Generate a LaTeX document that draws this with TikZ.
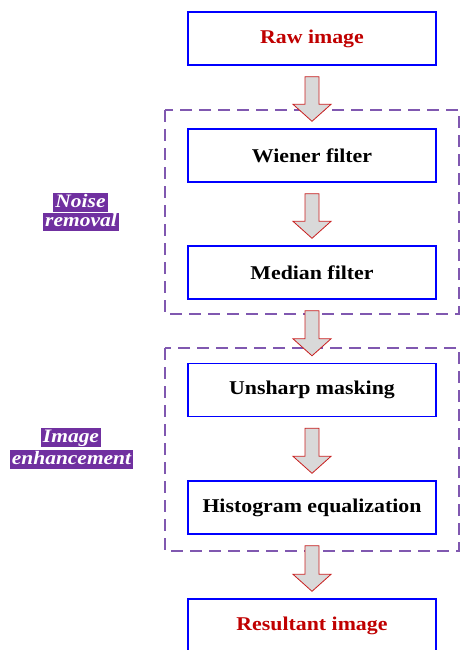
\documentclass[tikz,border=0pt]{standalone}
\usepackage{fontspec}
\setmainfont{Liberation Serif}
\newfontfamily\boxfont[FakeStretch=1.12]{Liberation Serif}
\newfontfamily\tagfont[FakeStretch=1.13]{Liberation Serif}
\usetikzlibrary{calc}
\definecolor{boxblue}{RGB}{0,0,255}
\definecolor{darkred}{RGB}{192,0,0}
\definecolor{groupline}{RGB}{128,88,176}
\definecolor{tagpurple}{RGB}{112,48,160}
\definecolor{arrowfill}{RGB}{217,217,217}
\definecolor{arrowline}{RGB}{200,30,30}
\tikzset{
  stagebox/.style={draw=boxblue, line width=1.4pt, fill=white,
    minimum width=248pt, minimum height=53pt, inner sep=0pt,
    font=\boxfont\bfseries\fontsize{19.5}{22}\selectfont},
  endbox/.style={stagebox, text=darkred},
  groupbox/.style={draw=groupline, line width=1.3pt, dash pattern=on 12pt off 7pt},
  tag/.style={fill=tagpurple, text=white, inner xsep=2pt, inner ysep=1pt,
    text height=13pt, text depth=3.5pt,
    font=\tagfont\bfseries\itshape\fontsize{19}{21}\selectfont},
  blockarrow/.style={draw=arrowline, fill=arrowfill, line width=0.8pt, line join=miter}
}
% hollow block arrow from just below one box to just above the next
\newcommand{\stagearrow}[2]{%
  \draw[blockarrow] let \p1=($(#1.south)+(0,11)$), \p2=($(#2.north)+(0,-7)$) in
    (\x1-7pt,\y1) -- (\x1+7pt,\y1) -- (\x1+7pt,\y2+17pt) -- (\x1+19pt,\y2+17pt)
    -- (\x1,\y2) -- (\x1-19pt,\y2+17pt) -- (\x1-7pt,\y2+17pt) -- cycle;}
\begin{document}
\begin{tikzpicture}[x=1pt, y=-1pt]
  \useasboundingbox (0,0) rectangle (460,650);

  % group frames
  \draw[groupbox] (165,110) rectangle (459,314);
  \draw[groupbox] (165,348) rectangle (459,551);

  % processing stages
  \node[endbox]   (raw)    at (312,38.5)  {Raw image};
  \node[stagebox] (wiener) at (312,155.5) {Wiener filter};
  \node[stagebox] (median) at (312,272.5) {Median filter};
  \node[stagebox] (unsharp) at (312,390)  {Unsharp masking};
  \node[stagebox] (histeq) at (312,507.5) {Histogram equalization};
  \node[endbox]   (result) at (312,625.5) {Resultant image};

  % group labels
  \node[tag] (noiseA) at (80.5,202.5) {Noise};
  \node[tag] (noiseB) at (81,222)     {removal};
  \node[tag] (enhA)   at (71,437.5)   {Image};
  \node[tag] (enhB)   at (71.5,459.5) {enhancement};

  % flow arrows
  \stagearrow{raw}{wiener}
  \stagearrow{wiener}{median}
  \stagearrow{median}{unsharp}
  \stagearrow{unsharp}{histeq}
  \stagearrow{histeq}{result}
\end{tikzpicture}
\end{document}
